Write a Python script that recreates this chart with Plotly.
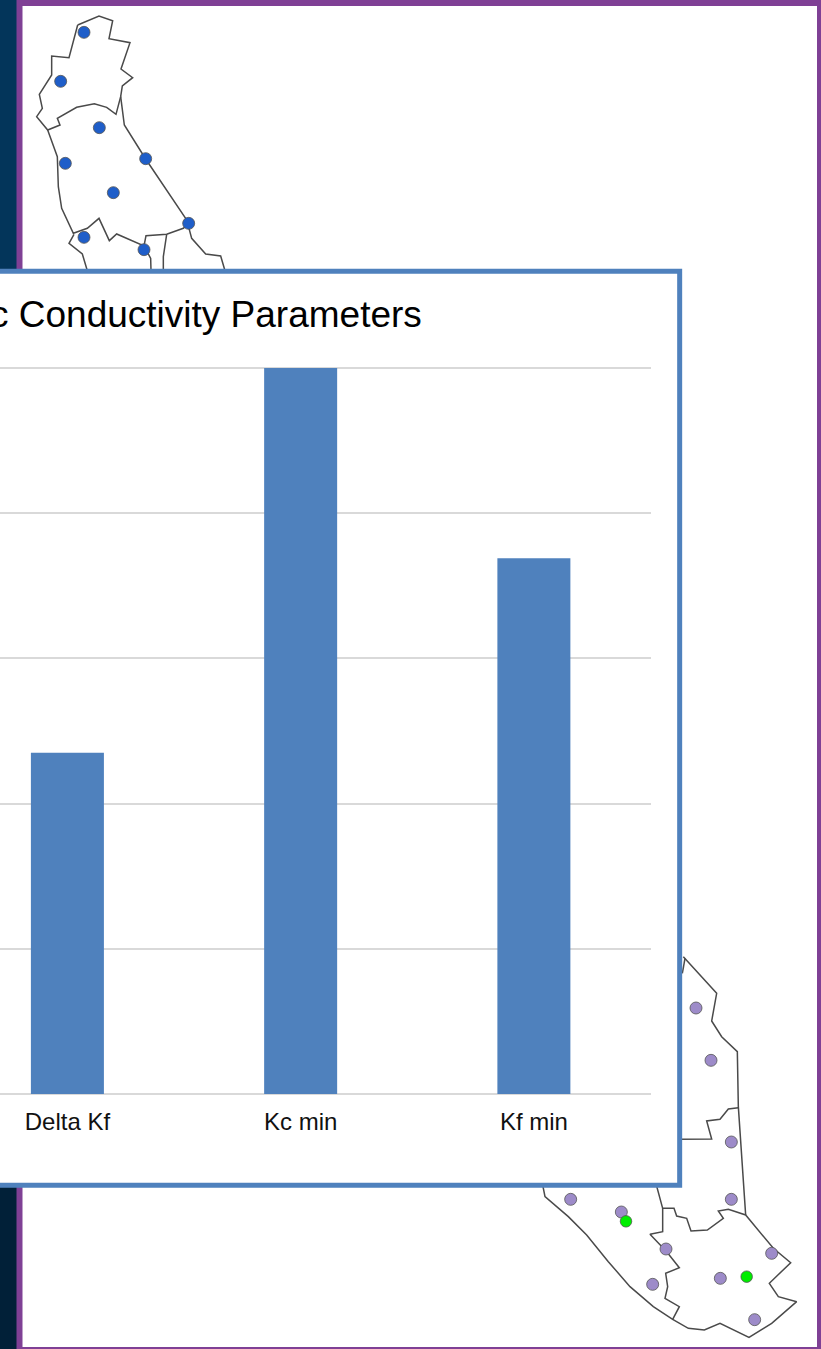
import plotly.graph_objects as go

W, H = 821, 1349

# Bar chart data (axis is cropped in the source; values in gridline units)
categories = ["Delta Kf", "Kc min", "Kf min"]
values = [2.35, 5.0, 3.69]
title_text = "c Conductivity Parameters"

# Upper map (digitised in 3x picture units)
top_district_x = [233,297,338,327,390,363,398,367,362,348,320,283,230,172,180,143,110,127,118,155,155,207,233]
top_district_y = [75,48,62,116,128,207,233,258,290,343,322,311,322,355,375,390,350,325,283,225,168,173,75]
mid_district_x = [143,172,175,185,220,262,297,328,350,432,438,500,550,567,437,373,362]
mid_district_y = [390,470,560,625,700,685,655,722,702,738,707,703,685,670,477,375,290]
stub1_x = [222,207,247,262]; stub1_y = [703,730,762,812]
stub2_x = [432,452,453];     stub2_y = [738,775,812]
stub3_x = [500,490,490];     stub3_y = [703,770,812]
stub4_x = [567,575,617,662,675]; stub4_y = [685,715,762,768,812]
top_sites_x = [252,182,298,196,437,340,252,432,566]
top_sites_y = [97,244,383,490,476,578,712,749,670]

# Lower map (digitised in 3x picture units of the lower crop)
edge_x = [490,590,575,605,652,655,677]
edge_y = [50,160,243,290,335,500,825]
branch_x = [655,625,600,560,575,470]
branch_y = [503,507,538,543,597,598]
short_x = [487,495]; short_y = [100,55]
south_x = [405,428,462,470,500,513,562,610,595,625,677,760,812,748,775,830,755,687,600,553,505,458,400,330,265,200,145,75,65]
south_y = [720,805,805,828,835,873,870,835,813,808,825,925,968,1030,1070,1085,1150,1192,1150,1170,1165,1138,1100,1040,965,885,830,770,720]
inner_x = [428,428,390,440,478,437,443,435,478,458]
inner_y = [805,875,883,935,983,1000,1040,1075,1100,1138]
low_sites_x = [528,573,634,634,152,304,438,398,601,755,704]
low_sites_y = [204,361,606,778,778,816,927,1033,1015,940,1139]
green_sites_x = [318,680]
green_sites_y = [844,1010]

# Chart panel outline in lower-crop units
panel_x = [-1700,479,479,-1700,-1700]
panel_y = [-2006,-2006,736,736,-2006]

fig = go.Figure()
line = dict(color="#4a4a4a", width=1.5)

def path(x, y, ax):
    fig.add_trace(go.Scatter(x=x, y=y, mode="lines", line=line, hoverinfo="skip",
                             showlegend=False, xaxis=ax[0], yaxis=ax[1]))

A = ("x", "y"); B = ("x2", "y2")
for px, py in [(top_district_x, top_district_y), (mid_district_x, mid_district_y),
               (stub1_x, stub1_y), (stub2_x, stub2_y), (stub3_x, stub3_y), (stub4_x, stub4_y)]:
    path(px, py, A)
fig.add_trace(go.Scatter(x=top_sites_x, y=top_sites_y, mode="markers", showlegend=False,
                         marker=dict(size=12, color="#1f5ec9", line=dict(color="#555", width=0.8)),
                         xaxis="x", yaxis="y"))

for px, py in [(edge_x, edge_y), (branch_x, branch_y), (short_x, short_y), (south_x, south_y), (inner_x, inner_y)]:
    path(px, py, B)
fig.add_trace(go.Scatter(x=low_sites_x, y=low_sites_y, mode="markers", showlegend=False,
                         marker=dict(size=12, color="#9d8bc9", line=dict(color="#555", width=0.8)),
                         xaxis="x2", yaxis="y2"))
fig.add_trace(go.Scatter(x=green_sites_x, y=green_sites_y, mode="markers", showlegend=False,
                         marker=dict(size=11.5, color="#00ee00", line=dict(color="#555", width=0.8)),
                         xaxis="x2", yaxis="y2"))
fig.add_trace(go.Scatter(x=panel_x, y=panel_y, mode="lines", fill="toself", fillcolor="#ffffff",
                         line=dict(color="#4f81bd", width=5), showlegend=False, hoverinfo="skip",
                         xaxis="x2", yaxis="y2"))

fig.add_trace(go.Bar(x=categories, y=values, marker=dict(color="#4f81bd", line=dict(width=0)),
                     showlegend=False, xaxis="x3", yaxis="y3"))

hidden = dict(visible=False, fixedrange=True)
fig.update_layout(
    width=W, height=H, margin=dict(l=0, r=0, t=0, b=0),
    paper_bgcolor="#ffffff", plot_bgcolor="rgba(0,0,0,0)", bargap=0.687,
    xaxis=dict(domain=[0, 1], range=[0, W * 3], **hidden),
    yaxis=dict(domain=[0, 1], range=[H * 3, 0], **hidden),
    xaxis2=dict(domain=[0, 1], range=[-520 * 3, (W - 520) * 3], **hidden),
    yaxis2=dict(domain=[0, 1], range=[(H - 940) * 3, -940 * 3], **hidden),
    xaxis3=dict(domain=[0, 650.5 / W], range=[-0.289, 2.5], type="category", fixedrange=True,
                anchor="y3", automargin=False,
                showgrid=False, showline=False, zeroline=False, ticks="", ticklabelstandoff=11,
                tickfont=dict(family="Liberation Sans, Arial", size=24, color="#111111"),
                categoryorder="array", categoryarray=categories),
    yaxis3=dict(domain=[(H - 1094) / H, (H - 366) / H], range=[0, 5.014], dtick=1, fixedrange=True,
                showticklabels=False, ticks="", showline=False, anchor="x3", automargin=False,
                showgrid=True, gridcolor="#d9d9d9", gridwidth=1.5,
                zeroline=True, zerolinecolor="#d9d9d9", zerolinewidth=1.5),
    shapes=[
        dict(type="rect", xref="paper", yref="paper", x0=0, x1=1, y0=0.5, y1=1, layer="below",
             fillcolor="#03355a", line=dict(width=0)),
        dict(type="rect", xref="paper", yref="paper", x0=0, x1=1, y0=0, y1=0.5, layer="below",
             fillcolor="#012038", line=dict(width=0)),
        dict(type="rect", xref="paper", yref="paper", x0=16.5 / W, x1=1, y0=0, y1=1, layer="below",
             fillcolor="#7f4095", line=dict(width=0)),
        dict(type="rect", xref="paper", yref="paper", x0=22.5 / W, x1=817 / W,
             y0=(H - 1347) / H, y1=(H - 6) / H, layer="below",
             fillcolor="#ffffff", line=dict(width=0)),
    ],
    annotations=[dict(text=title_text, xref="paper", yref="paper", x=424 / W, y=(H - 314) / H,
                      xanchor="right", yanchor="middle", showarrow=False,
                      font=dict(family="Liberation Sans, Arial", size=37, color="#000000"))],
)
fig.write_html("out.html", config={"displayModeBar": False},
               post_script="document.body.style.margin='0';document.body.style.overflow='hidden';")
